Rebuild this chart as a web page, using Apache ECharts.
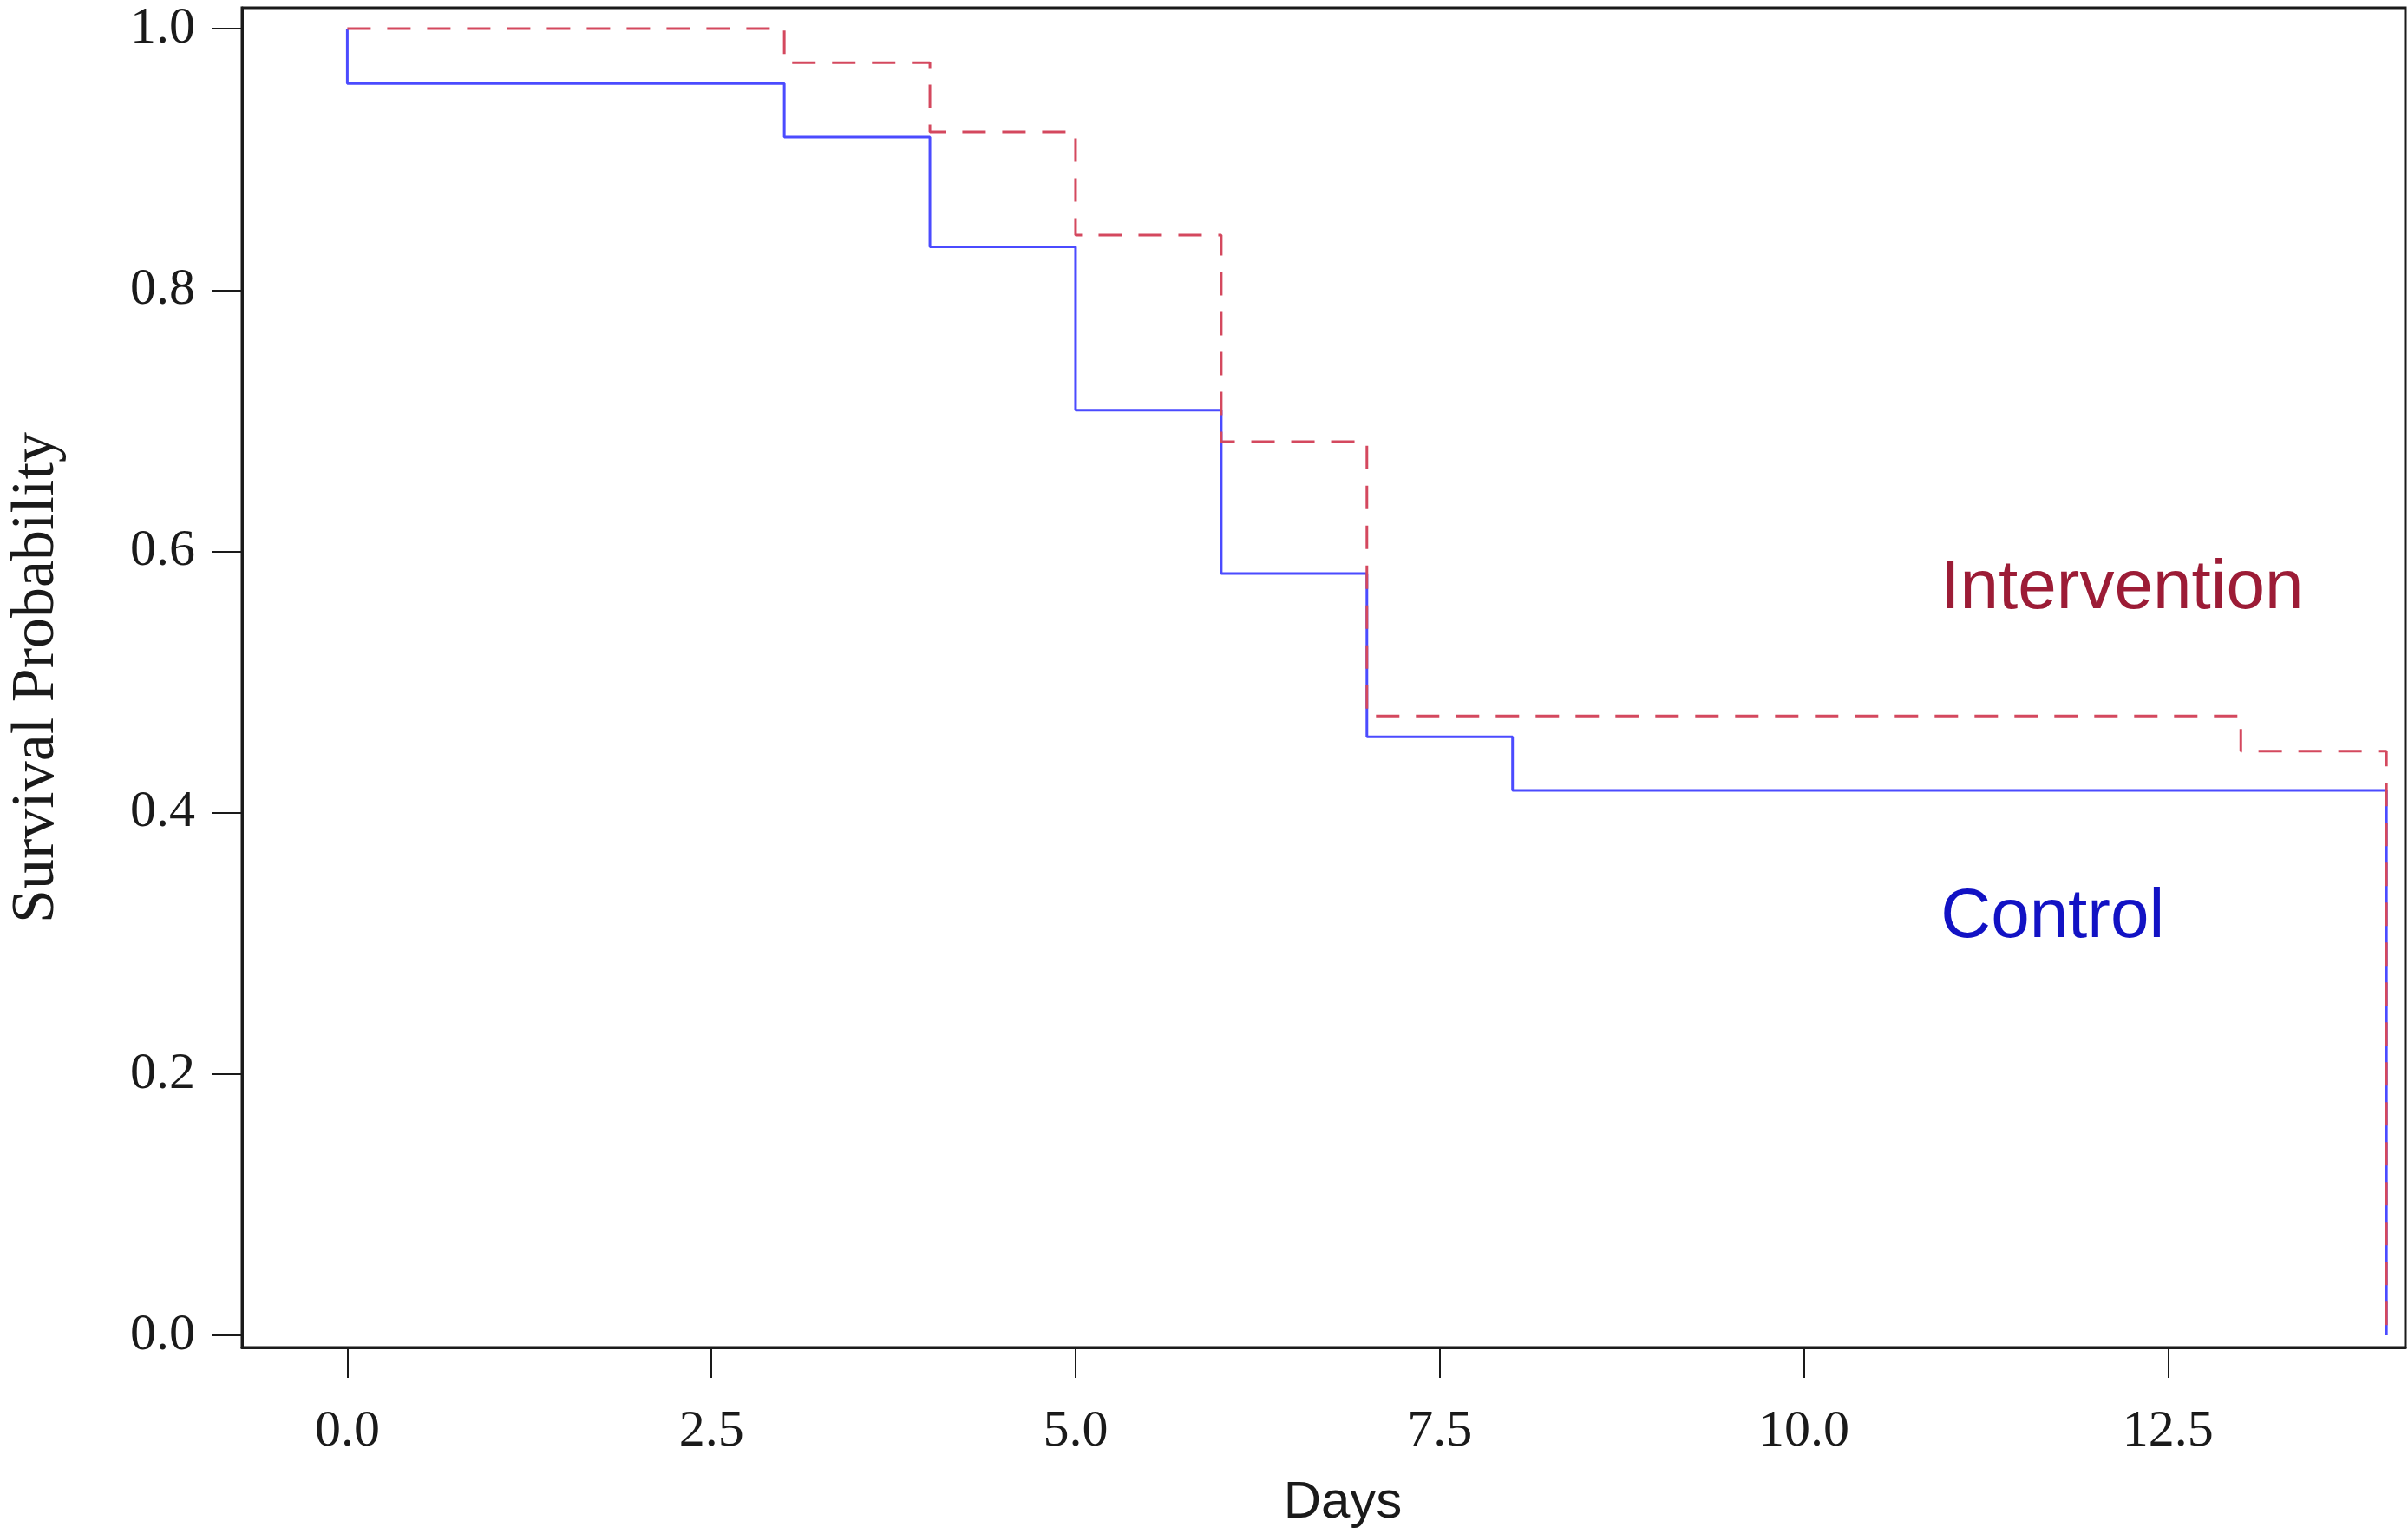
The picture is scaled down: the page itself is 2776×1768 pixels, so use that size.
<!DOCTYPE html>
<html>
<head>
<meta charset="utf-8">
<title>Survival Probability</title>
<script src="https://cdn.jsdelivr.net/npm/echarts@6/dist/echarts.min.js"></script>
<style>
  html, body { margin: 0; padding: 0; background: #fff; }
  #chart { width: 2776px; height: 1768px; }
</style>
</head>
<body>
<div id="chart"></div>
<script>
// Kaplan-Meier curves, values.
var controlDays = [0, 0, 3, 4, 5, 6, 7, 8, 14, 14];
var controlSurv = [1.0, 0.958, 0.917, 0.833, 0.708, 0.583, 0.458, 0.417, 0.417, 0.0];
var interventionDays = [0, 3, 4, 5, 6, 7, 13, 14, 14];
var interventionSurv = [1.0, 0.974, 0.921, 0.842, 0.684, 0.474, 0.447, 0.447, 0.0];

var xTicks = [0, 2.5, 5, 7.5, 10, 12.5];
var yTicks = [0, 0.2, 0.4, 0.6, 0.8, 1.0];

var groupLabels = [
  { text: "Intervention", color: "#9c1c36", at: [10.94, 0.571] },
  { text: "Control", color: "#1212c4", at: [10.94, 0.3195] }
];

function pairs(xs, ys) {
  return xs.map(function (x, i) { return [x, ys[i]]; });
}

var serif = "'Liberation Serif', 'Times New Roman', serif";
var sans = "'Liberation Sans', Arial, sans-serif";
var ink = "#1a1a1a";

var chart = echarts.init(document.getElementById("chart"), null, { renderer: "canvas" });

chart.setOption({
  animation: false,
  backgroundColor: "#fff",
  grid: {
    left: 267, right: 3, top: 9, bottom: 215,
    show: true, borderColor: ink, borderWidth: 3, backgroundColor: "#fff"
  },
  xAxis: {
    type: "value",
    min: -0.723, max: 14.13,
    name: "Days",
    nameLocation: "middle",
    nameGap: 149,
    nameTextStyle: { fontFamily: sans, fontSize: 60, color: ink, padding: [0, 0, 0, 44] },
    axisLine: { show: true, onZero: false, lineStyle: { color: ink, width: 3 } },
    axisTick: { show: true, length: 35, customValues: xTicks, lineStyle: { color: ink, width: 2 } },
    axisLabel: {
      customValues: xTicks, margin: 67,
      fontFamily: serif, fontSize: 60, color: ink,
      formatter: function (v) { return v.toFixed(1); }
    },
    splitLine: { show: false }
  },
  yAxis: {
    type: "value",
    min: -0.0093, max: 1.016,
    name: "Survival Probability",
    nameLocation: "middle",
    nameRotate: 90,
    nameGap: 201,
    nameTextStyle: { fontFamily: serif, fontSize: 70, color: ink },
    axisLine: { show: true, onZero: false, lineStyle: { color: ink, width: 3 } },
    axisTick: { show: true, length: 35, customValues: yTicks, lineStyle: { color: ink, width: 2 } },
    axisLabel: {
      customValues: yTicks, margin: 54,
      fontFamily: serif, fontSize: 60, color: ink,
      formatter: function (v) { return v.toFixed(1); }
    },
    splitLine: { show: false }
  },
  series: [
    {
      name: "Control",
      type: "line",
      step: "end",
      showSymbol: false,
      data: pairs(controlDays, controlSurv),
      lineStyle: { color: "#4b4bff", width: 3 },
      z: 2
    },
    {
      name: "Intervention",
      type: "line",
      step: "end",
      showSymbol: false,
      data: pairs(interventionDays, interventionSurv),
      lineStyle: { color: "#d4485e", width: 3, type: [27, 19] },
      z: 3
    }
  ]
});

// Group annotations, placed through the grid's own coordinate system.
chart.setOption({
  graphic: groupLabels.map(function (g) {
    var p = chart.convertToPixel({ gridIndex: 0 }, g.at);
    return {
      type: "text", x: p[0], y: p[1], z: 10,
      style: {
        text: g.text, fill: g.color,
        font: "80px " + sans,
        textAlign: "left", textVerticalAlign: "middle"
      }
    };
  })
});
</script>
</body>
</html>
